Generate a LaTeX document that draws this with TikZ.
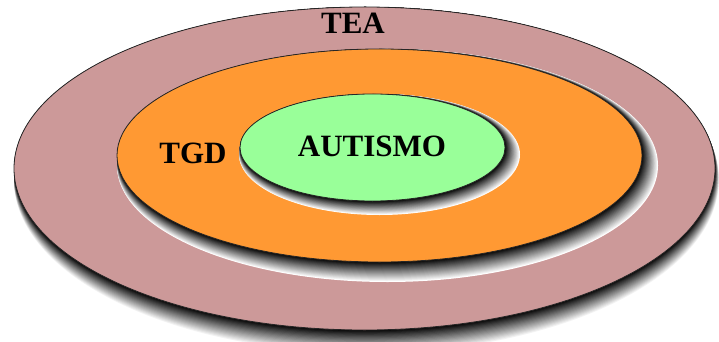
\documentclass[tikz,border=0pt]{standalone}
\usepackage{fontspec}
\setmainfont{Liberation Serif}
\definecolor{teapink}{HTML}{CC9999}
\definecolor{tgdorange}{HTML}{FF9933}
\definecolor{autgreen}{HTML}{99FF99}
\newcommand\softshadow[8]{%
  \foreach \k in {20,19,...,0}{%
    \pgfmathsetmacro\tt{\k/20}%
    \pgfmathsetmacro\pp{100*(1-\tt)}%
    \fill[black!\pp!white] ({#1+\tt*#5},{#2+\tt*#6}) ellipse [x radius={#3+\tt*#7}, y radius={#4+\tt*#8}];
  }}
\tikzset{
  ring/.style={draw=black!85, line width=0.8pt},
  label/.style={font=\bfseries\fontsize{31}{36}\selectfont, text=black, inner sep=0pt}
}
\begin{document}
\begin{tikzpicture}[x=1pt,y=-1pt]
\useasboundingbox (0,0) rectangle (719,342);
\clip (0,0) rectangle (719,342);
\fill[white] (0,0) rectangle (719,342);
% outer TEA
\softshadow{364.5}{168.5}{350.5}{161.5}{2}{12}{2}{12}
\draw[ring, fill=teapink] (364.5,168.5) ellipse [x radius=350.5, y radius=161.5];
% TGD
\softshadow{379.5}{155.5}{262.5}{106.5}{8}{10}{8}{10}
\draw[ring, fill=tgdorange] (379.5,155.5) ellipse [x radius=262.5, y radius=106.5];
% AUTISMO
\softshadow{372.5}{147.5}{132.5}{53.5}{7}{7}{8}{7}
\draw[ring, fill=autgreen] (372.5,147.5) ellipse [x radius=132.5, y radius=53.5];
% labels
\node[label] (tea) at (353,23) {TEA};
\node[label] (tgd) at (193,153) {TGD};
\node[label] (aut) at (372,146) {AUTISMO};
\end{tikzpicture}
\end{document}
